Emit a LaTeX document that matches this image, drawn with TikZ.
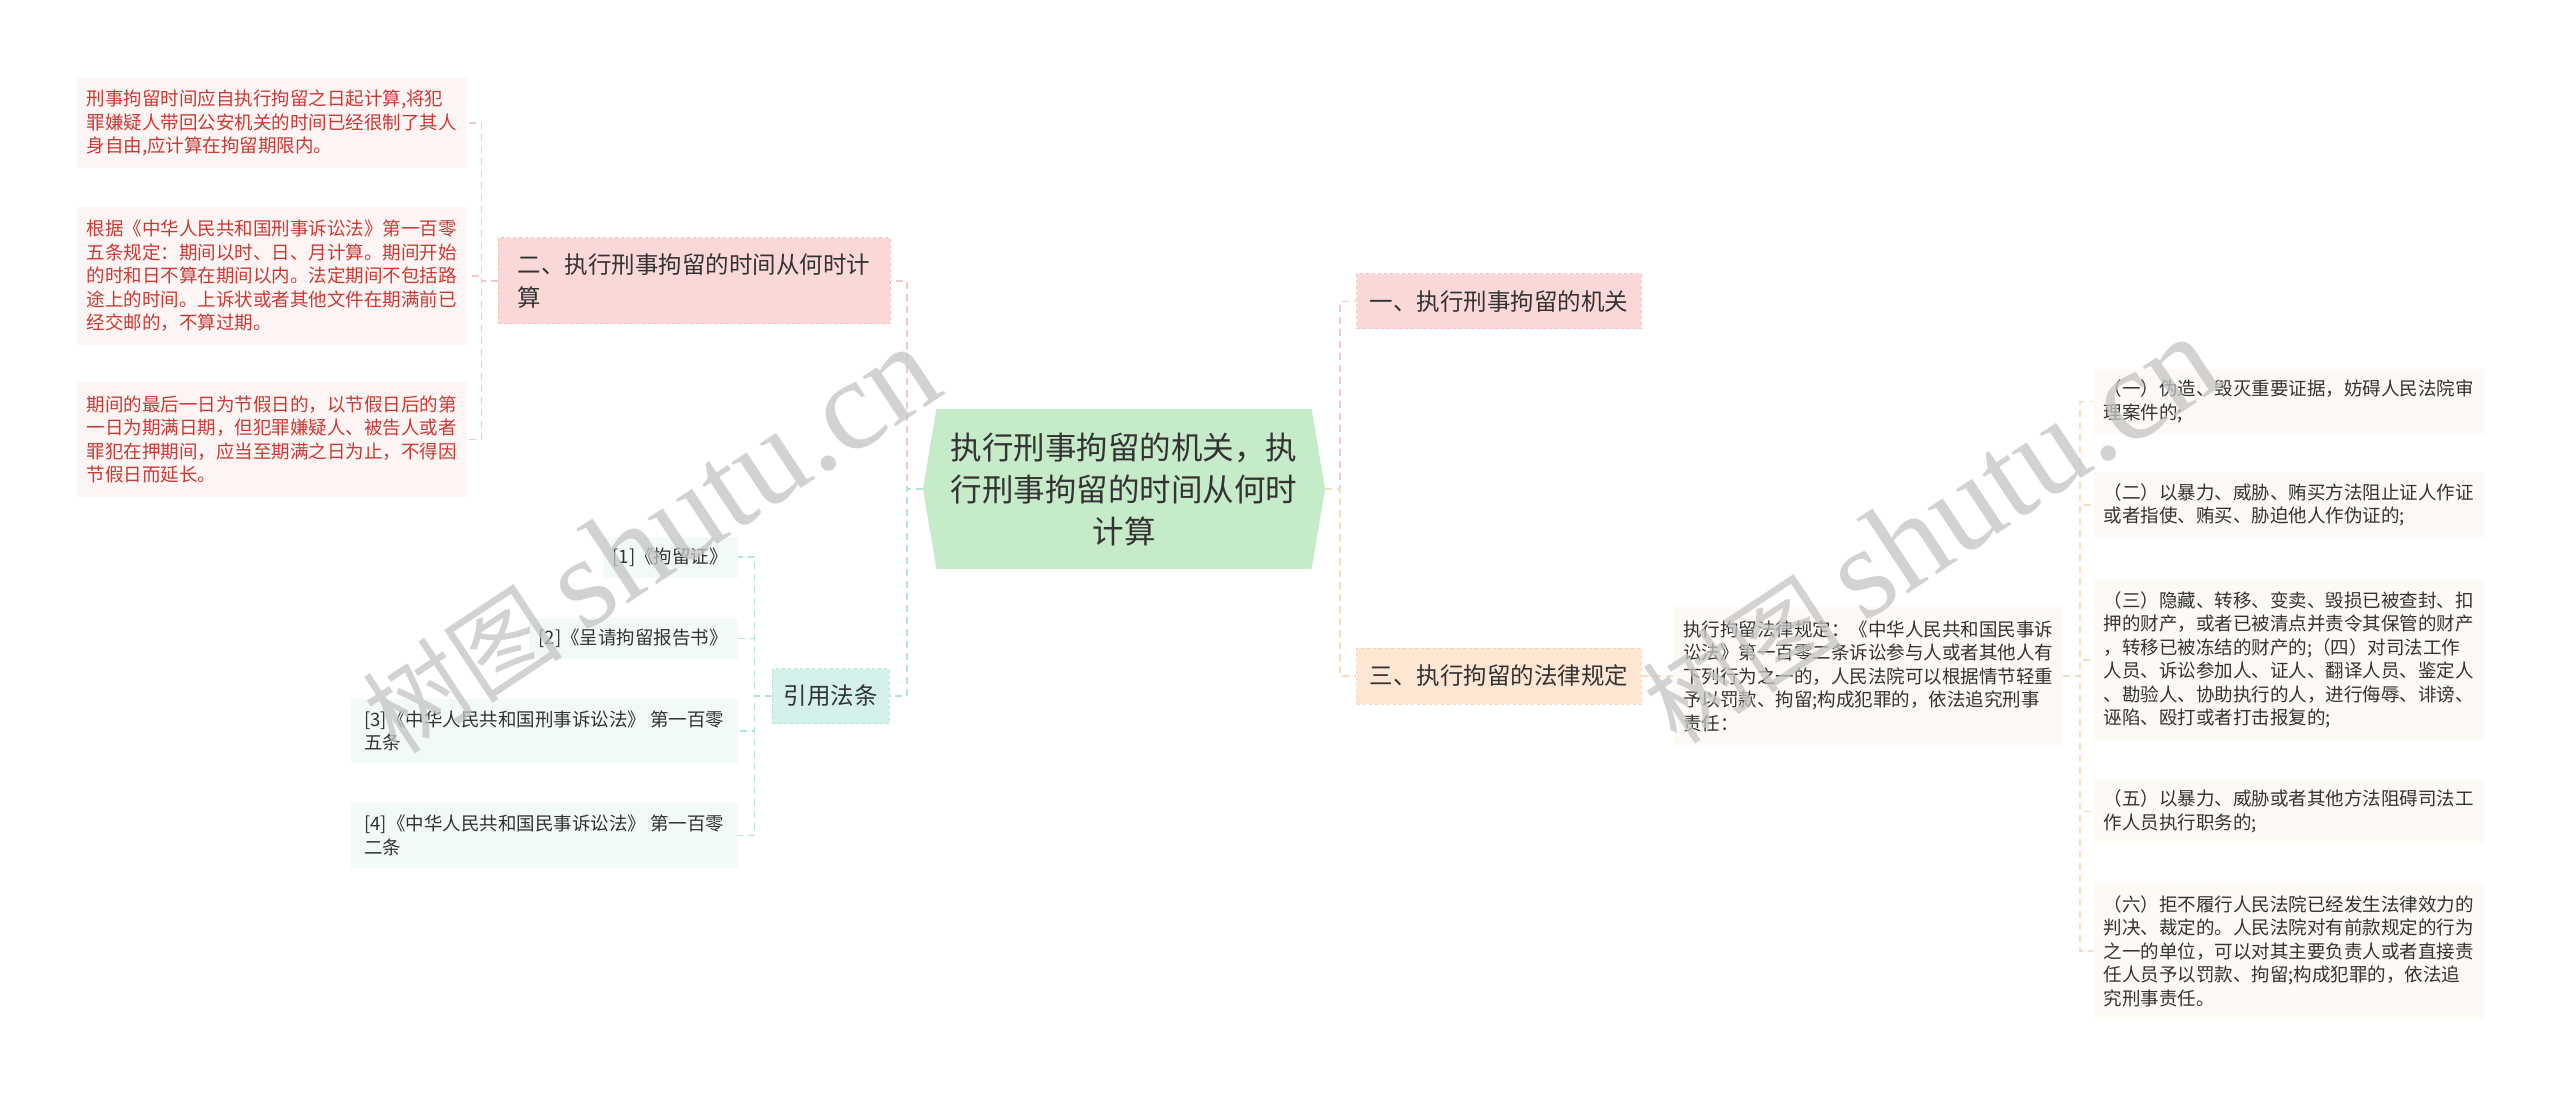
\documentclass[tikz,border=0pt]{standalone}
\usepackage{fontspec}
\setmainfont{Noto Sans CJK SC}
\newfontfamily\wmlatin{Liberation Serif}
\usepackage{xcolor}
\usepackage{tikz}
\usetikzlibrary{positioning,shapes.symbols}

\definecolor{rootgreen}{HTML}{C6EBC8}
\definecolor{txtgray}{HTML}{333333}
\definecolor{pinkfill}{HTML}{FBD8D8}
\definecolor{pinkedge}{HTML}{F2C2C4}
\definecolor{peachfill}{HTML}{FDE6D2}
\definecolor{peachedge}{HTML}{F7D3B4}
\definecolor{cyanfill}{HTML}{D3F0EB}
\definecolor{cyanedge}{HTML}{B8E2DA}
\definecolor{redbg}{HTML}{FDF5F4}
\definecolor{redtxt}{HTML}{C93A36}
\definecolor{refbg}{HTML}{F2F9F9}
\definecolor{lawbg}{HTML}{FDFAF5}
\definecolor{pinkline}{HTML}{F2C6CB}
\definecolor{cyanline}{HTML}{B5E2DB}
\definecolor{peachline}{HTML}{F9DCC0}
\definecolor{wmgray}{HTML}{C4C4C4}

\begin{document}
\begin{tikzpicture}[x=1pt, y=-1pt,
  rootnode/.style={signal, signal to=east and west, signal pointer angle=161, fill=rootgreen, text=txtgray, align=center, minimum width=402pt, minimum height=160pt, inner sep=0pt, font=\fontsize{31.5}{42}\selectfont},
  topicnode/.style={rectangle, dashed, line width=1pt, align=left, inner xsep=13pt, inner ysep=0pt, text=txtgray, font=\fontsize{23.5}{33}\selectfont},
  leafnode/.style={rectangle, align=left, inner xsep=10pt, inner ysep=0pt, font=\fontsize{18.5}{23.5}\selectfont},
  redleaf/.style={leafnode, fill=redbg, text=redtxt, minimum width=387pt},
  refleaf/.style={leafnode, fill=refbg, text=txtgray, anchor=east, minimum height=41pt},
  lawleaf/.style={leafnode, fill=lawbg, text=txtgray, minimum width=387pt},
  link/.style={line width=1.5pt, dash pattern=on 7pt off 5pt},
  pinklink/.style={link, draw=pinkline},
  cyanlink/.style={link, draw=cyanline},
  peachlink/.style={link, draw=peachline},
  wmark/.style={text=wmgray, opacity=0.75, inner sep=0pt}]

\path[fill=white, use as bounding box] (0,0) rectangle (2560,1099);

\node[rootnode] at (1124, 489) (root) {执行刑事拘留的机关，执\\行刑事拘留的时间从何时\\计算};

\node[topicnode, fill=pinkfill, draw=pinkedge, minimum width=284pt, minimum height=55pt] at (1499, 301.5) (t1) {一、执行刑事拘留的机关};
\node[topicnode, fill=pinkfill, draw=pinkedge, minimum width=392pt, minimum height=86pt] at (694, 281) (t2) {二、执行刑事拘留的时间从何时计\\算};
\node[topicnode, fill=peachfill, draw=peachedge, minimum width=284pt, minimum height=56pt] at (1499, 676) (t3) {三、执行拘留的法律规定};
\node[topicnode, fill=cyanfill, draw=cyanedge, minimum width=117pt, minimum height=55pt, inner xsep=10pt] at (830.5, 696) (cite) {引用法条};

\node[redleaf, minimum height=90pt] at (271.5, 123) (r1) {刑事拘留时间应自执行拘留之日起计算,将犯\\罪嫌疑人带回公安机关的时间已经很制了其人\\身自由,应计算在拘留期限内。};
\node[redleaf, minimum height=138pt] at (271.5, 276) (r2) {根据《中华人民共和国刑事诉讼法》第一百零\\五条规定：期间以时、日、月计算。期间开始\\的时和日不算在期间以内。法定期间不包括路\\途上的时间。上诉状或者其他文件在期满前已\\经交邮的，不算过期。};
\node[redleaf, minimum height=115pt] at (271.5, 439.5) (r3) {期间的最后一日为节假日的，以节假日后的第\\一日为期满日期，但犯罪嫌疑人、被告人或者\\罪犯在押期间，应当至期满之日为止，不得因\\节假日而延长。};

\node[refleaf] at (738, 557) (c1) {[1]《拘留证》};
\node[refleaf] at (738, 638.5) (c2) {[2]《呈请拘留报告书》};
\node[refleaf, minimum width=387pt, minimum height=64pt] at (738, 731) (c3) {[3]《中华人民共和国刑事诉讼法》 第一百零\\五条};
\node[refleaf, minimum width=387pt, minimum height=65pt] at (738, 835.5) (c4) {[4]《中华人民共和国民事诉讼法》 第一百零\\二条};

\node[lawleaf, minimum height=138pt] at (1868, 676) (law) {执行拘留法律规定：《中华人民共和国民事诉\\讼法》第一百零二条诉讼参与人或者其他人有\\下列行为之一的，人民法院可以根据情节轻重\\予以罚款、拘留;构成犯罪的，依法追究刑事\\责任：};

\node[lawleaf, minimum height=65pt] at (2288.5, 401.5) (s1) {（一）伪造、毁灭重要证据，妨碍人民法院审\\理案件的;};
\node[lawleaf, minimum height=66pt] at (2288.5, 505) (s2) {（二）以暴力、威胁、贿买方法阻止证人作证\\或者指使、贿买、胁迫他人作伪证的;};
\node[lawleaf, minimum height=160pt] at (2288.5, 660) (s3) {（三）隐藏、转移、变卖、毁损已被查封、扣\\押的财产，或者已被清点并责令其保管的财产\\，转移已被冻结的财产的;（四）对司法工作\\人员、诉讼参加人、证人、翻译人员、鉴定人\\、勘验人、协助执行的人，进行侮辱、诽谤、\\诬陷、殴打或者打击报复的;};
\node[lawleaf, minimum height=63pt] at (2288.5, 811.5) (s5) {（五）以暴力、威胁或者其他方法阻碍司法工\\作人员执行职务的;};
\node[lawleaf, minimum height=136pt] at (2288.5, 951) (s6) {（六）拒不履行人民法院已经发生法律效力的\\判决、裁定的。人民法院对有前款规定的行为\\之一的单位，可以对其主要负责人或者直接责\\任人员予以罚款、拘留;构成犯罪的，依法追\\究刑事责任。};

\draw[pinklink] (root.west) -- ++(-16,0) |- (t2.east);
\draw[cyanlink] (root.west) -- ++(-16,0) |- (cite.east);
\draw[pinklink] (root.east) -- ++(15,0) |- (t1.west);
\draw[peachlink] (root.east) -- ++(15,0) |- (t3.west);
\foreach \leaf in {r1,r2,r3}
  \draw[pinklink] (t2.west) -- ++(-16,0) |- (\leaf.east);
\foreach \leaf in {c1,c2,c3,c4}
  \draw[cyanlink] (cite.west) -- ++(-17,0) |- (\leaf.east);
\draw[peachlink] (t3.east) -- (law.west);
\foreach \leaf in {s1,s2,s3,s5,s6}
  \draw[peachlink] (law.east) -- ++(17,0) |- (\leaf.west);

\node[wmark, rotate=33.5] at (650, 540) (wm1) {\fontsize{100}{100}\selectfont 树图 {\wmlatin\fontsize{130}{130}\selectfont shutu.cn}};
\node[wmark, rotate=33.5] at (1930, 530) (wm2) {\fontsize{100}{100}\selectfont 树图 {\wmlatin\fontsize{130}{130}\selectfont shutu.cn}};

\end{tikzpicture}
\end{document}
